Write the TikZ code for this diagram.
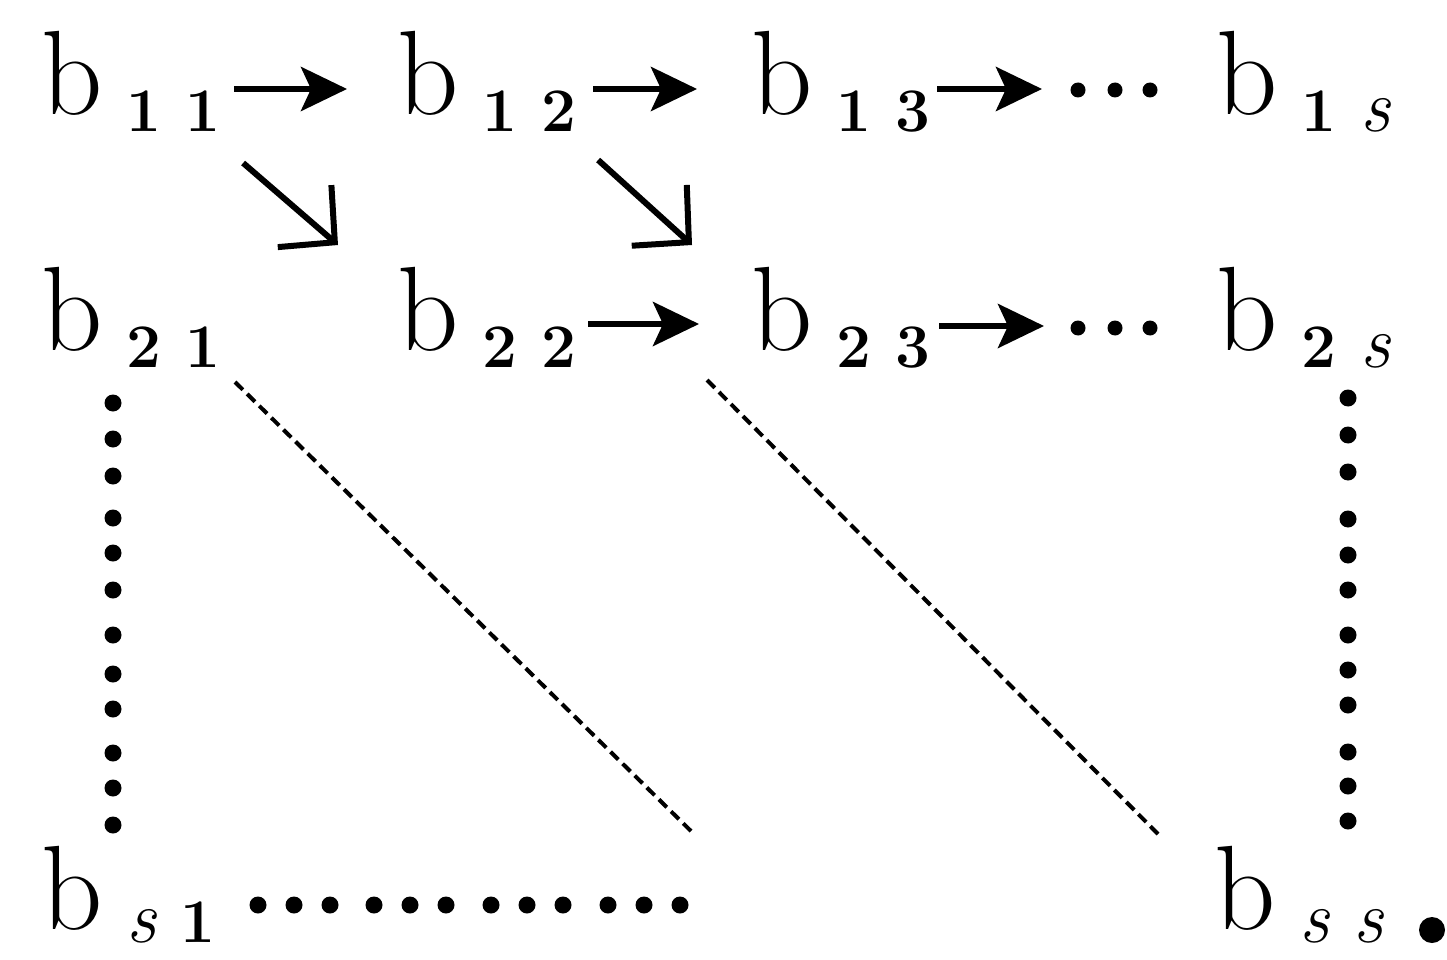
\documentclass[tikz,border=0pt]{standalone}
\usepackage{fontspec}
\setmainfont{Latin Modern Roman}
\usetikzlibrary{arrows.meta}
\newcommand{\bGlyph}{{\fontsize{120}{120}\selectfont b}}
\newcommand{\subD}[1]{{\fontsize{62}{62}\selectfont\bfseries #1}}
\newcommand{\subS}{{\fontsize{75}{75}\selectfont\itshape s}}
\newcommand{\bSub}[3][17pt]{\bGlyph\hspace{24pt}\raisebox{-#1}{#2\hspace{24pt}#3}}
\tikzset{
  lab/.style={inner sep=0pt, outer sep=0pt, anchor=base west},
  harr/.style={line width=6pt, -{Stealth[length=46pt,width=44pt,inset=10pt]}},
  darr/.style={line width=6pt, -{Straight Barb[length=40pt,width=82pt]}},
  dashline/.style={line width=4pt, dash pattern=on 11pt off 6pt},
}
\begin{document}
\begin{tikzpicture}[x=1pt,y=-1pt]
\useasboundingbox (0,0) rectangle (1447,960);
% nodes
\node[lab] (b11) at (41,115)   {\bSub{\subD{1}}{\subD{1}}};
\node[lab] (b12) at (397,115)  {\bSub{\subD{1}}{\subD{2}}};
\node[lab] (b13) at (751,115)  {\bSub{\subD{1}}{\subD{3}}};
\node[lab] (b1s) at (1216,115) {\bSub{\subD{1}}{\subS}};
\node[lab] (b21) at (41,350)   {\bSub{\subD{2}}{\subD{1}}};
\node[lab] (b22) at (397,350)  {\bSub{\subD{2}}{\subD{2}}};
\node[lab] (b23) at (751,350)  {\bSub{\subD{2}}{\subD{3}}};
\node[lab] (b2s) at (1216,350) {\bSub{\subD{2}}{\subS}};
\node[lab] (bs1) at (41,929)   {\bSub[13pt]{\subS}{\subD{1}}};
\node[lab] (bss) at (1214,929) {\bSub[13pt]{\subS}{\subS}};
\fill (1432,930) circle (13pt);
% free ends
\coordinate (t1) at (1042,89);
\coordinate (t2) at (1044,326);
\coordinate (l1s) at (235,382);
\coordinate (l1e) at (695,835);
\coordinate (l2s) at (707,380);
\coordinate (l2e) at (1162,838);
% horizontal arrows
\draw[harr] ([shift={(14,-26)}]b11.base east) -- ([shift={(-50,-26)}]b12.base west);
\draw[harr] ([shift={(17,-26)}]b12.base east) -- ([shift={(-54,-26)}]b13.base west);
\draw[harr] ([shift={(7,-26)}]b13.base east) -- (t1);
\draw[harr] ([shift={(12,-26)}]b22.base east) -- ([shift={(-52,-26)}]b23.base west);
\draw[harr] ([shift={(9,-24)}]b23.base east) -- (t2);
% diagonal arrows
\draw[darr] ([shift={(23,48)}]b11.base east) -- ([shift={(-59,-105)}]b22.base west);
\draw[darr] ([shift={(22,45)}]b12.base east) -- ([shift={(-59,-105)}]b23.base west);
% dots after arrows
\foreach \xx in {1078,1115,1150} {
  \fill (\xx,90) circle (7.5pt);
  \fill (\xx,328) circle (7.5pt);
}
% vertical dots
\foreach \yy in {403,439,476,518,553,590,635,674,709,753,788,825}
  \fill (113,\yy) circle (8.5pt);
\foreach \yy in {398,435,472,519,555,590,635,670,705,752,786,821}
  \fill (1348,\yy) circle (8.5pt);
% horizontal dots
\foreach \xx in {258,294,330,374,410,446,491,527,563,608,644,680}
  \fill (\xx,905) circle (8.5pt);
% dashed diagonals
\draw[dashline] (l1s) -- (l1e);
\draw[dashline] (l2s) -- (l2e);
\end{tikzpicture}
\end{document}
